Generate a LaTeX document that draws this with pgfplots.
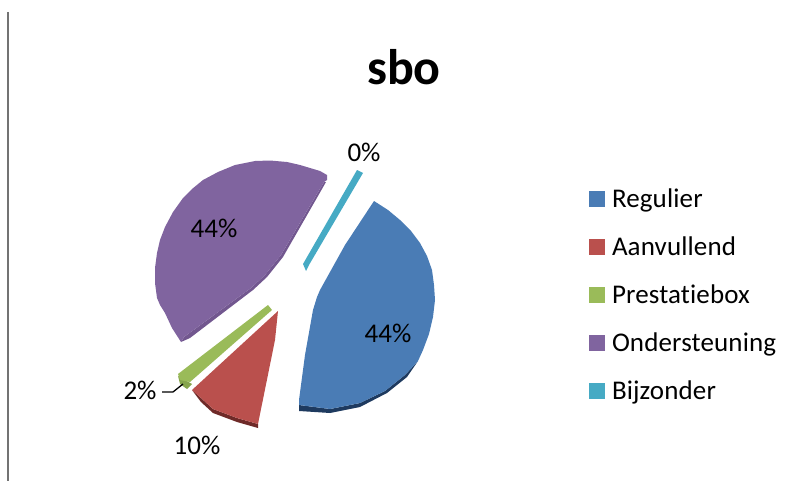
\documentclass[border=0pt]{standalone}
\usepackage{pgfplots}
\usepackage{fontspec}
\pgfplotsset{compat=1.18}
\setmainfont{Carlito}

\definecolor{cblue}{HTML}{4A7CB5}
\definecolor{cred}{HTML}{BA504D}
\definecolor{cgreen}{HTML}{9ABB59}
\definecolor{cpurple}{HTML}{80649F}
\definecolor{cteal}{HTML}{46AAC4}
\definecolor{dblue}{HTML}{1E3A5F}
\definecolor{dred}{HTML}{6E2A28}
\definecolor{dgreen}{HTML}{86A54C}
\definecolor{dpurple}{HTML}{72578F}

\pgfplotsset{
    wedge/.style={fill=#1,draw=none,forget plot},
    slice/.style={fill=#1,draw=none,area legend,
        legend image code/.code={
            \fill[#1] (0pt,-8pt) rectangle (16pt,8pt);
        }},
}

\begin{document}
\begin{tikzpicture}
\begin{axis}[
    scale only axis,
    width=788pt,
    height=481pt,
    xmin=0,xmax=788,
    ymin=0,ymax=481,
    y dir=reverse,
    hide axis,
    clip=false,
    legend style={
        at={(axis cs:589,187)},
        anchor=north west,
        draw=none,
        fill=none,
        inner sep=0pt,
        outer sep=0pt,
        font=\fontsize{27}{27}\selectfont\addfontfeature{LetterSpace=0.5,Ligatures=NoCommon},
        row sep=23.8pt,
        /tikz/every even column/.append style={column sep=7pt},
        /tikz/every odd column/.append style={column sep=5pt},
        cells={anchor=west},
    },
    legend cell align=left,
]
% keeps the page at the full picture size
\addplot[draw=none,forget plot] coordinates {(0,0) (788,481)};

% side bands first
\addplot[wedge=dblue] coordinates {(418,361) (407,377) (387,393) (360,407) (330,413) (299,411) (299,405) (330,409) (360,403) (385,391) (405,375)} -- cycle;
\addplot[wedge=dred] coordinates {(192,390) (201,402) (213,413) (237,422) (258,428) (258,424) (237,418) (213,409) (201,398)} -- cycle;
\addplot[wedge=dpurple] coordinates {(181,342) (190,338) (253,290) (267,277) (283,257) (326,182) (324,182) (281,255) (265,275) (251,288) (184,337)} -- cycle;
\addplot[wedge=dgreen] coordinates {(178,376) (180,384) (187,389) (192,384)} -- cycle;

% slices
\addplot[slice=cblue] coordinates {(374,201) (388,210) (400,220) (411,231) (420,243) (427,256) (432,270) (434,285) (435,300) (433,317) (429,334) (423,350) (418,361) (405,375) (385,391) (360,403) (330,409) (299,405) (299,400) (305,355) (313,310) (317,297) (320,290) (345,245)} -- cycle;
\addlegendentry{Regulier}
\addplot[slice=cred] coordinates {(278,311) (275,340) (258,424) (237,418) (213,409) (201,398) (192,390)} -- cycle;
\addlegendentry{Aanvullend}
\addplot[slice=cgreen] coordinates {(178,374) (268,305) (272,310) (190,382) (180,380)} -- cycle;
\addlegendentry{Prestatiebox}
\addplot[slice=cpurple] coordinates {(327,175) (320,171) (300,165) (287,162) (270,160.5) (255,161) (235,165) (218,172) (203,180) (192,189) (183,198) (173,212) (165,227) (160,240) (157,253) (155,268) (155,283) (157,298) (160,305) (165,313) (172,328) (181,342) (184,337) (251,288) (265,275) (281,255) (324,182) (327,180)} -- cycle;
\addlegendentry{Ondersteuning}
\addplot[slice=cteal] coordinates {(357,170) (363,173) (309,265) (306,271) (303,264)} -- cycle;
\addlegendentry{Bijzonder}

% leader line of the 2% label and the frame line on the left
\addplot[black,line width=1.3pt,forget plot] coordinates {(162,392) (173,392) (183,384)};
\addplot[black!55,line width=1.3pt,forget plot] coordinates {(8,12) (8,481)};

\node[font=\fontsize{50}{50}\selectfont\bfseries] at (axis cs:404,67) {sbo};
\begin{scope}[font=\fontsize{27}{27}\selectfont]
\node at (axis cs:214,228) {44\%};
\node at (axis cs:388,333) {44\%};
\node at (axis cs:364,152) {0\%};
\node at (axis cs:140,390) {2\%};
\node at (axis cs:197,445) {10\%};
\end{scope}
\end{axis}
\end{tikzpicture}
\end{document}
